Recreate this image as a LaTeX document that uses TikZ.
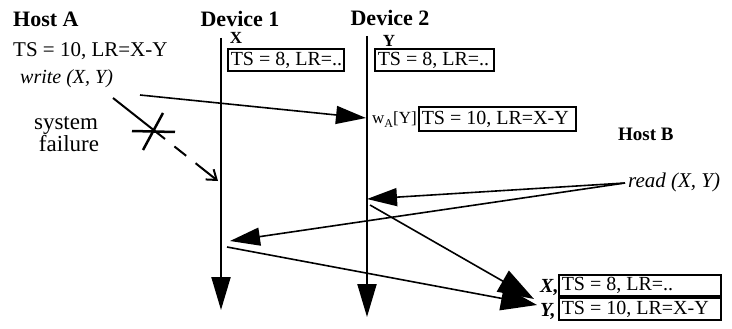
\documentclass[tikz,border=0pt]{standalone}
\usepackage{fontspec}
\setmainfont{Liberation Serif}
\usetikzlibrary{arrows.meta}
\newcommand\fsz[1]{\fontsize{#1}{#1}\selectfont}
\newcommand\boxtext[2]{\makebox[#1][l]{#2}}
\begin{document}
\begin{tikzpicture}[x=1pt,y=-1pt,
  every node/.style={inner sep=0pt, font=\fsz{20}},
  head/.style={font=\fsz{22}\bfseries},
  valbox/.style={draw, line width=1.5pt, inner xsep=3pt, inner ysep=0pt, anchor=west, minimum height=22pt},
  life/.style={line width=2.2pt, -{Triangle[length=33pt,width=19pt]}},
  msg/.style={line width=1.6pt, -{Triangle[length=30pt,width=18pt]}},
  bigmsg/.style={line width=1.6pt, -{Triangle[length=36pt,width=24pt]}},
  fail/.style={line width=2pt},
]
\useasboundingbox (0,0) rectangle (732,329);

% headings
\node[head, anchor=base west] (hostA) at (13,27) {Host A};
\node[head, anchor=base] (dev1) at (240,27) {Device 1};
\node[head, anchor=base] (dev2) at (390,26) {Device 2};
\node[font=\fsz{19}\bfseries, anchor=base west] (hostB) at (618,140) {Host B};

% host A texts
\node[anchor=base west, font=\fsz{21}] (tsA) at (13,57) {TS = 10, LR=X-Y};
\node[anchor=base west, font=\fsz{20}\itshape] (write) at (20,84) {write (X, Y)};
\node[anchor=base, font=\fsz{23}] (sys) at (66,129) {system};
\node[anchor=base, font=\fsz{23}] (failure) at (69,152) {failure};

% lifelines
\coordinate (d1top) at (221,38);
\coordinate (d1bot) at (221,310);
\coordinate (d2top) at (367,36);
\coordinate (d2bot) at (367,317);
\draw[life] (d1top) -- (d1bot);
\draw[life] (d2top) -- (d2bot);

% device labels and boxes
\node[font=\fsz{17}\bfseries, anchor=base] (xl) at (236,44) {X};
\node[font=\fsz{17}\bfseries, anchor=base] (yl) at (389,47) {Y};
\node[valbox] (bx1) at (227,60) {\boxtext{110pt}{TS = 8, LR=..}};
\node[valbox] (bx2) at (374,60) {\boxtext{113pt}{TS = 8, LR=..}};
\node[anchor=base west, font=\fsz{17}] (wa) at (372,124) {w\raisebox{-3.5pt}{\fsz{12}A}[Y]};
\node[valbox, minimum height=24pt] (bx3) at (418,119) {\boxtext{151pt}{TS = 10, LR=X-Y}};

% write arrow
\coordinate (ws) at (140,95);
\coordinate (we) at (366,118);
\draw[msg] (ws) -- (we);

% system failure
\coordinate (f0) at (113,98);
\coordinate (f1) at (165,139);
\coordinate (f2) at (218,181);
\draw[fail] (f0) -- (f1);
\draw[fail, dash pattern=on 0pt off 12pt on 15pt off 12pt on 60pt,
  -{Straight Barb[length=9pt,width=13pt]}] (f1) -- (f2);
\coordinate (c1) at (132,131);
\coordinate (c2) at (175,132);
\coordinate (c3) at (143,150);
\coordinate (c4) at (163,113);
\draw[line width=2.5pt] (c1) -- (c2);
\draw[line width=2.5pt] (c3) -- (c4);

% read
\node[anchor=base west, font=\fsz{21}\itshape] (read) at (628,187) {read (X, Y)};
\coordinate (rs) at (625,183);
\coordinate (r2) at (367,199);
\coordinate (r1) at (230,241);
\draw[msg] (rs) -- (r2);
\draw[msg] (rs) -- (r1);

% results
\coordinate (o2) at (370,205);
\coordinate (o1) at (227,247);
\coordinate (t2) at (534,299);
\coordinate (t1) at (537,305);
\draw[bigmsg] (o2) -- (t2);
\draw[bigmsg] (o1) -- (t1);

\node[anchor=base west, font=\fsz{20}\bfseries\itshape] (xc) at (540,292) {X,};
\node[anchor=base west, font=\fsz{20}\bfseries\itshape] (yc) at (540,316) {Y,};
\node[valbox, minimum height=21pt] (bx4) at (558,285.5) {\boxtext{156pt}{TS = 8, LR=..}};
\node[valbox] (bx5) at (558,309) {\boxtext{156pt}{TS = 10, LR=X-Y}};
\end{tikzpicture}
\end{document}
